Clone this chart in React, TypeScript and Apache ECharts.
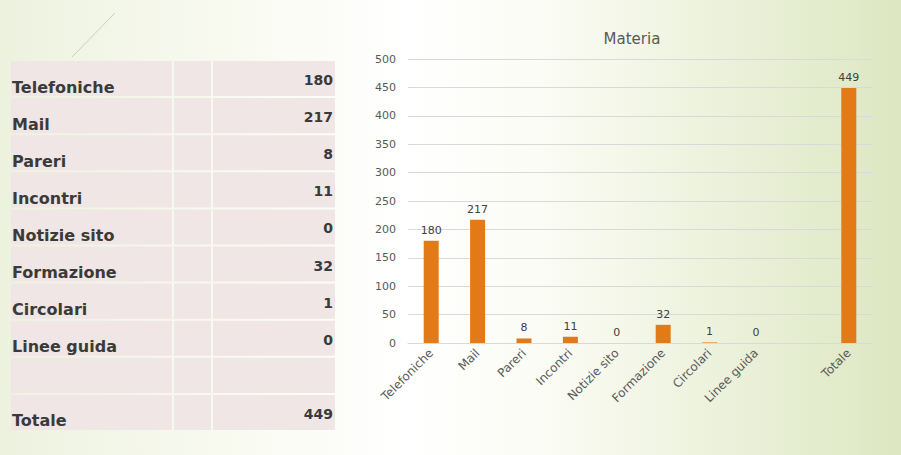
import React, { useEffect, useRef } from "react";
import * as echarts from "echarts";

const categories = [
  "Telefoniche",
  "Mail",
  "Pareri",
  "Incontri",
  "Notizie sito",
  "Formazione",
  "Circolari",
  "Linee guida",
  "",
  "Totale",
];
const values: (number | null)[] = [180, 217, 8, 11, 0, 32, 1, 0, null, 449];
const chartTitle = "Materia";
const yMax = 500;
const yInterval = 50;

const FONT = "'DejaVu Sans', sans-serif";

export default function App() {
  const ref = useRef<HTMLDivElement>(null);

  useEffect(() => {
    if (!ref.current) return;
    const chart = echarts.init(ref.current, undefined, { renderer: "svg" });

    // table layout
    const tTop = 61;
    const rowH = 37.1;
    const cols = [
      [11, 172],
      [174, 211],
      [213, 335],
    ];
    const graphics: any[] = [];
    graphics.push({
      type: "line",
      shape: { x1: 72, y1: 57, x2: 115, y2: 13 },
      style: { stroke: "#c9d3b4", lineWidth: 1 },
      silent: true,
    });
    categories.forEach((cat, i) => {
      const y = tTop + i * rowH;
      cols.forEach(([x0, x1]) => {
        graphics.push({
          type: "rect",
          shape: { x: x0, y: y, width: x1 - x0, height: rowH - 2 },
          style: { fill: "#efe6e5" },
          silent: true,
        });
      });
      if (cat) {
        graphics.push({
          type: "text",
          x: 12,
          y: y + 26,
          style: {
            text: cat,
            font: `bold 16px ${FONT}`,
            fill: "#3a3a3a",
            textVerticalAlign: "middle",
            textAlign: "left",
          },
          silent: true,
        });
      }
      const v = values[i];
      if (v !== null && v !== undefined) {
        graphics.push({
          type: "text",
          x: 333,
          y: y + 19,
          style: {
            text: String(v),
            font: `bold 14px ${FONT}`,
            fill: "#3a3a3a",
            textVerticalAlign: "middle",
            textAlign: "right",
          },
          silent: true,
        });
      }
    });

    chart.setOption({
      animation: false,
      backgroundColor: {
        type: "linear",
        x: 0,
        y: 0,
        x2: 1,
        y2: 0,
        colorStops: [
          { offset: 0, color: "#edf2df" },
          { offset: 0.25, color: "#f8faf0" },
          { offset: 0.45, color: "#ffffff" },
          { offset: 0.6, color: "#fbfcf5" },
          { offset: 1, color: "#dde7c2" },
        ],
      },
      title: {
        text: chartTitle,
        left: 627,
        top: 26,
        textAlign: "center",
        textStyle: {
          fontFamily: FONT,
          fontSize: 15,
          fontWeight: "normal",
          color: "#595959",
        },
      },
      grid: { left: 408, right: 29, top: 59, bottom: 112, containLabel: false },
      xAxis: {
        type: "category",
        data: categories,
        axisLine: { lineStyle: { color: "#d9d9d9" } },
        axisTick: { show: false },
        axisLabel: {
          interval: 0,
          rotate: 45,
          margin: 8,
          fontFamily: FONT,
          fontSize: 12,
          color: "#595959",
        },
      },
      yAxis: {
        type: "value",
        min: 0,
        max: yMax,
        interval: yInterval,
        axisLine: { show: false },
        axisTick: { show: false },
        splitLine: { lineStyle: { color: "#d9d9d9" } },
        axisLabel: {
          fontFamily: FONT,
          fontSize: 11,
          color: "#595959",
          margin: 12,
        },
      },
      series: [
        {
          type: "bar",
          data: values,
          barWidth: 15,
          itemStyle: { color: "#e27b17" },
          label: {
            show: true,
            position: "top",
            distance: 5,
            fontFamily: FONT,
            fontSize: 11,
            color: "#404040",
          },
        },
      ],
      graphic: graphics,
    });

    return () => chart.dispose();
  }, []);

  return (
    <div
      ref={ref}
      style={{ position: "fixed", left: 0, top: 0, width: 901, height: 455 }}
    />
  );
}
